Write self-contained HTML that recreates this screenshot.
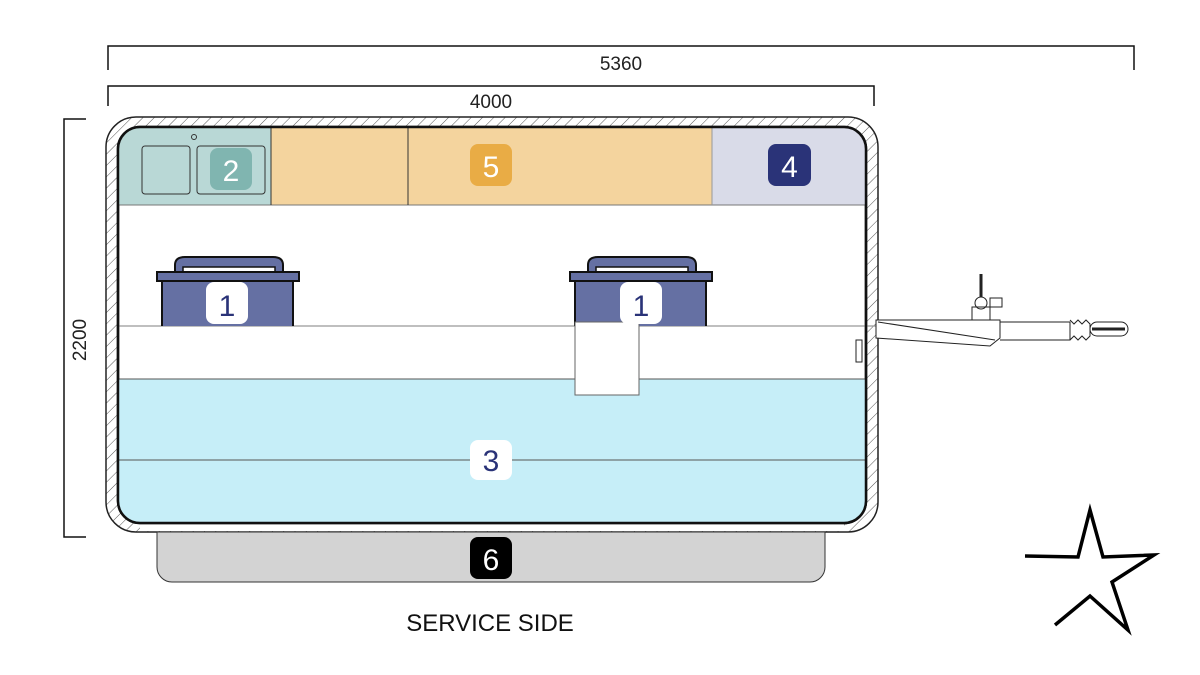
<!DOCTYPE html>
<html><head><meta charset="utf-8"><style>body{margin:0;background:#fff}svg{display:block}text{font-family:"Liberation Sans",sans-serif}</style></head><body>
<svg width="1200" height="675" viewBox="0 0 1200 675">
<defs>
<pattern id="h" width="8" height="8" patternUnits="userSpaceOnUse" patternTransform="rotate(45)"><line x1="0" y1="0" x2="0" y2="8" stroke="#555" stroke-width="1"/></pattern>
</defs>
<g stroke="#111" stroke-width="1.5" fill="none">
<polyline points="108,70 108,46 1134,46 1134,70"/>
<polyline points="108,106 108,86 874,86 874,106"/>
<polyline points="86,119 64,119 64,537 86,537"/>
</g>
<text x="621" y="70" font-size="19" text-anchor="middle" fill="#222">5360</text>
<text x="491" y="108" font-size="19" text-anchor="middle" fill="#222">4000</text>
<text transform="translate(86,340) rotate(-90)" font-size="19" text-anchor="middle" fill="#222">2200</text>
<rect x="106" y="117" width="772" height="415" rx="30" fill="url(#h)" stroke="#222" stroke-width="1.5"/>
<rect x="140" y="510" width="704" height="21" fill="#fff"/>
<rect x="118" y="127" width="748" height="396" rx="22" fill="#fff" stroke="#111" stroke-width="2.5"/>
<path d="M118,205 V149 A22,22 0 0 1 140,127 H271 V205 Z" fill="#b9d8d6"/>
<rect x="271" y="127" width="441" height="78" fill="#f4d49e"/>
<path d="M712,127 H844 A22,22 0 0 1 866,149 V205 H712 Z" fill="#d9dbe8"/>
<g stroke="#333" stroke-width="1" fill="none">
<line x1="118" y1="205" x2="866" y2="205" stroke="#777"/>
<line x1="271" y1="127" x2="271" y2="205"/>
<line x1="408" y1="127" x2="408" y2="205"/>
<line x1="712" y1="127" x2="712" y2="205" stroke="#999"/>
<rect x="142" y="146" width="48" height="48" rx="3"/>
<rect x="197" y="146" width="68" height="48" rx="3"/>
<circle cx="194" cy="137" r="2.5"/>
</g>
<line x1="118" y1="326" x2="876" y2="326" stroke="#999" stroke-width="1.2"/>
<path d="M118,379 H866 V501 A22,22 0 0 1 844,523 H140 A22,22 0 0 1 118,501 Z" fill="#c6eef8"/>
<line x1="118" y1="379" x2="866" y2="379" stroke="#555" stroke-width="1"/>
<line x1="118" y1="460" x2="866" y2="460" stroke="#555" stroke-width="1"/>
<rect x="118" y="127" width="748" height="396" rx="22" fill="none" stroke="#111" stroke-width="2.5"/>
<g stroke="#111" stroke-width="2">
<path d="M175,272 V265 Q175,257 185,257 H273 Q283,257 283,265 V272" fill="#6570a3"/>
<path d="M183,272 V267 H275 V272" fill="#fff" stroke-width="1.5"/>
<rect x="157" y="272" width="142" height="9" fill="#6570a3"/>
<path d="M162,326 V281 H293 V326" fill="#6570a3"/>
<path d="M588,272 V265 Q588,257 598,257 H686 Q696,257 696,265 V272" fill="#6570a3"/>
<path d="M596,272 V267 H688 V272" fill="#fff" stroke-width="1.5"/>
<rect x="570" y="272" width="142" height="9" fill="#6570a3"/>
<path d="M575,326 V281 H706 V326" fill="#6570a3"/>
</g>
<rect x="575" y="322" width="64" height="73" fill="#fff" stroke="#666" stroke-width="1"/>
<path d="M157,532 H825 V567 A15,15 0 0 1 810,582 H172 A15,15 0 0 1 157,567 Z" fill="#d3d3d3" stroke="#333" stroke-width="1"/>
<g stroke="#222" stroke-width="1" fill="none">
<path d="M876,320 H1000 V338 L990,346 L876,338 Z" fill="#fff"/>
<line x1="878" y1="322" x2="995" y2="340"/>
<path d="M972,320 V307 H990 V320" /><circle cx="981" cy="303" r="6"/>
<line x1="981" y1="297" x2="981" y2="274" stroke-width="3"/>
<rect x="990" y="298" width="12" height="9"/>
<path d="M1000,322 H1070 V340 H1000"/>
<path d="M1070,320 l4,4 l4,-4 l4,4 l4,-4 l4,4 V336 l-4,4 l-4,-4 l-4,4 l-4,-4 l-4,4"/>
<rect x="1090" y="322" width="38" height="14" rx="7"/>
<line x1="1092" y1="329" x2="1125" y2="329" stroke-width="3"/>
<rect x="856" y="340" width="6" height="22"/>
</g>
<rect x="210" y="148" width="42" height="42" rx="8" fill="#80b5b0"/>
<text x="231" y="181" font-size="30" text-anchor="middle" fill="#fff">2</text>
<rect x="470" y="144" width="42" height="42" rx="8" fill="#e9ac45"/>
<text x="491" y="177" font-size="30" text-anchor="middle" fill="#fff">5</text>
<rect x="768" y="144" width="43" height="42" rx="8" fill="#2a3378"/>
<text x="789.5" y="177" font-size="30" text-anchor="middle" fill="#fff">4</text>
<rect x="206" y="282" width="42" height="42" rx="8" fill="#fff"/>
<text x="227" y="316" font-size="30" text-anchor="middle" fill="#2a3378">1</text>
<rect x="620" y="282" width="42" height="42" rx="8" fill="#fff"/>
<text x="641" y="316" font-size="30" text-anchor="middle" fill="#2a3378">1</text>
<rect x="470" y="440" width="42" height="40" rx="8" fill="#fff"/>
<text x="491" y="471" font-size="30" text-anchor="middle" fill="#2a3378">3</text>
<rect x="470" y="537" width="42" height="42" rx="8" fill="#000"/>
<text x="491" y="570" font-size="30" text-anchor="middle" fill="#fff">6</text>
<text x="490" y="631" font-size="24" text-anchor="middle" fill="#111">SERVICE SIDE</text>
<path d="M1025,556 L1078,557 L1090,510 L1103,557 L1154,555 L1112,582 L1128,630 L1090,596 L1055,625" fill="none" stroke="#000" stroke-width="3.5" stroke-linejoin="miter"/>
</svg>
</body></html>
